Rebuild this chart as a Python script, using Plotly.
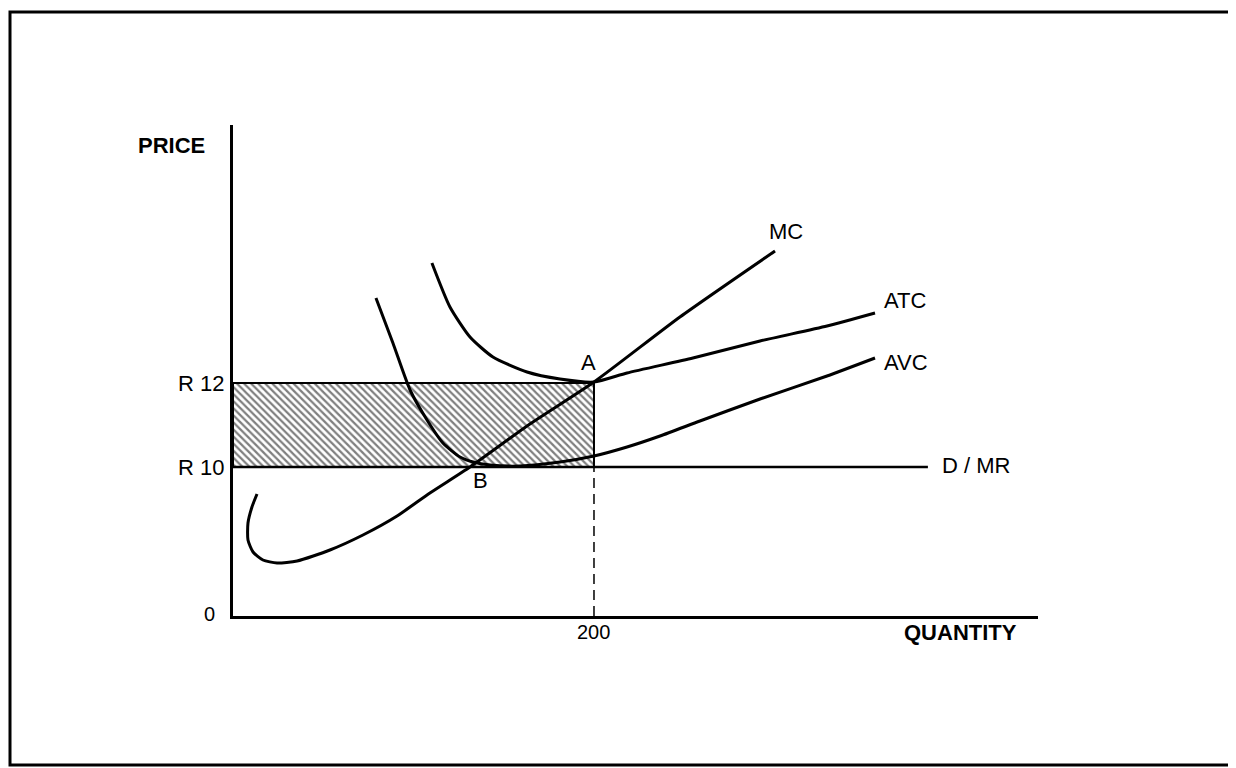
import plotly.graph_objects as go

# ---------------- data (quantity, price index) ----------------
mc_q = [13.3, 10.5, 8.3, 8.3, 11.1, 16.6, 24.4, 35.5, 53.7, 72.0, 90.9, 109.1, 131.3, 164.5, 200.0, 247.6, 300.3]
mc_p = [12.2, 10.9, 9.3, 7.6, 6.4, 5.6, 5.3, 5.5, 6.6, 8.1, 10.0, 12.3, 14.9, 19.2, 23.4, 29.9, 36.5]

atc_q = [110.2, 120.2, 131.3, 144.0, 162.9, 181.2, 200.0, 218.3, 254.8, 292.0, 329.1, 355.7]
atc_p = [35.3, 30.9, 27.9, 25.9, 24.4, 23.7, 23.4, 24.3, 25.8, 27.5, 29.0, 30.3]

avc_q = [79.2, 88.6, 98.1, 107.5, 116.3, 125.8, 133.0, 142.4, 159.0, 181.2, 200.0, 218.3, 236.6, 258.7, 292.0, 329.1, 355.7]
avc_p = [31.8, 27.3, 22.6, 19.6, 17.3, 15.9, 15.4, 15.1, 15.0, 15.4, 16.0, 16.9, 18.0, 19.5, 21.7, 24.0, 25.8]

mr_q = [0.0, 385.0]
mr_p = [14.9, 14.9]

q_star = 200.0          # output at point A
price_r10 = 14.9        # D / MR price level
price_r12 = 23.3        # ATC at q*

x_tick_vals = [200.0]
x_tick_text = ["200"]
y_tick_vals = [0.0, 14.9, 23.3]
y_tick_text = ["0", "R 10", "R 12"]

curve_labels = ["MC", "ATC", "AVC", "D / MR", "A", "B"]
curve_label_q = [306.4, 359.6, 359.6, 391.7, 197.2, 137.4]
curve_label_p = [38.5, 31.6, 25.4, 15.1, 25.4, 13.6]

x_range = [0, 446.0]
y_range = [0, 49.1]

FONT = "Liberation Sans, Arial, sans-serif"
BLACK = "black"
FS = 22      # letters
FS_NUM = 20  # plain numbers

fig = go.Figure()

# shaded loss rectangle
fig.add_trace(go.Scatter(
    x=[0, q_star, q_star, 0, 0],
    y=[price_r10, price_r10, price_r12, price_r12, price_r10],
    mode="lines", fill="toself", fillcolor="white",
    fillpattern=dict(shape="\\", fgcolor=BLACK, bgcolor="white", size=5, solidity=0.45),
    line=dict(color=BLACK, width=2), hoverinfo="skip", showlegend=False,
))

# dashed line down from q*
fig.add_trace(go.Scatter(
    x=[q_star, q_star], y=[0, price_r10], mode="lines",
    line=dict(color=BLACK, width=1.5, dash="10px,6px"), showlegend=False, hoverinfo="skip",
))

# D / MR
fig.add_trace(go.Scatter(x=mr_q, y=mr_p, mode="lines",
                         line=dict(color=BLACK, width=2.5), showlegend=False))

for qs, ps in [(mc_q, mc_p), (atc_q, atc_p), (avc_q, avc_p)]:
    fig.add_trace(go.Scatter(x=qs, y=ps, mode="lines",
                             line=dict(color=BLACK, width=3, shape="spline", smoothing=0.6),
                             showlegend=False))


def px_x(q):
    return (q - x_range[0]) / (x_range[1] - x_range[0])


def px_y(p):
    return (p - y_range[0]) / (y_range[1] - y_range[0])


def label(q, p, text, anchor="center", size=FS):
    return dict(x=px_x(q), y=px_y(p), xref="paper", yref="paper", text=text, showarrow=False,
                xanchor=anchor, yanchor="middle", font=dict(size=size, color=BLACK, family=FONT))


annotations = []
for v, t in zip(x_tick_vals, x_tick_text):
    annotations.append(label(v, -1.6, t, size=FS_NUM))
for v, t in zip(y_tick_vals, y_tick_text):
    if t == "0":
        annotations.append(label(-8.9, v + 0.2, t, "right", size=FS_NUM))
    else:
        annotations.append(label(-4.0, v, t, "right"))
for t, q, p in zip(curve_labels, curve_label_q, curve_label_p):
    annotations.append(label(q, p, t, "center" if t in ("MC", "A", "B") else "left"))
annotations.append(label(-34.3, 47.1, "<b>PRICE</b>"))
annotations.append(label(402.8, -1.6, "<b>QUANTITY</b>"))

# page offset of 8px (body margin) compensated
OFF = 8
W, H = 1236, 768
pw, ph = 805, 491
L, T = 233 - OFF, 125 - OFF
R, B = W - L - pw, H - T - ph


def paper_x(px):
    return (px - 233) / pw


def paper_y(py):
    return (616 - py) / ph


fig.update_layout(
    width=W, height=H,
    margin=dict(l=L, r=R, t=T, b=B, pad=0),
    paper_bgcolor="white", plot_bgcolor="white",
    xaxis=dict(range=x_range, showgrid=False, zeroline=False, showticklabels=False, ticks="",
               showline=True, linecolor=BLACK, linewidth=2.5),
    yaxis=dict(range=y_range, showgrid=False, zeroline=False, showticklabels=False, ticks="",
               showline=True, linecolor=BLACK, linewidth=2.5),
    annotations=annotations,
    shapes=[dict(type="rect", xref="paper", yref="paper",
                 x0=paper_x(10), x1=paper_x(1240), y0=paper_y(765), y1=paper_y(12),
                 line=dict(color=BLACK, width=3), fillcolor="rgba(0,0,0,0)", layer="above")],
    showlegend=False,
)

fig.write_html("out.html")
